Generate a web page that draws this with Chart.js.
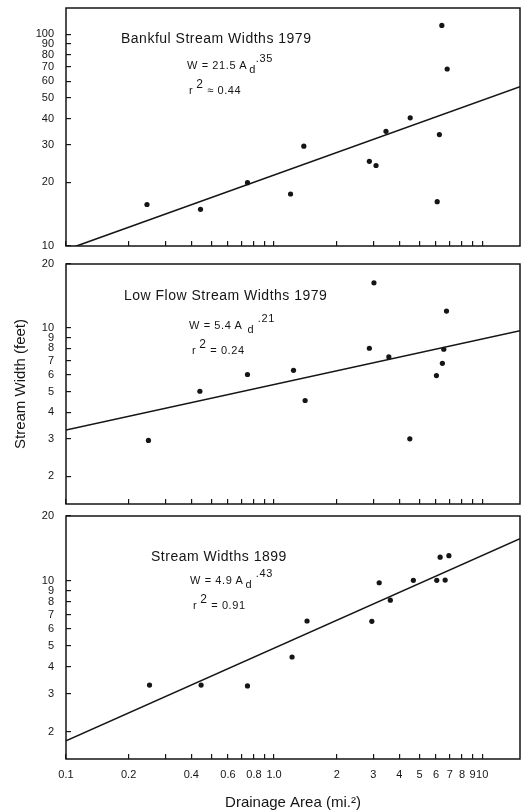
<!DOCTYPE html>
<html>
<head>
<meta charset="utf-8">
<title>Stream widths vs drainage area</title>
<script src="https://cdn.jsdelivr.net/npm/chart.js@4.4.1/dist/chart.umd.min.js"></script>
<style>
  body { margin: 0; background: #fff; }
  #figure { position: relative; width: 530px; height: 812px; font-family: "Liberation Sans", Arial, Helvetica, sans-serif; color: #151515; }
  #figure canvas { position: absolute; left: 0; }
  .label { position: absolute; white-space: nowrap; line-height: 1; }
  .panel-title { font-size: 14px; letter-spacing: 0.5px; }
  .eq { font-size: 11px; letter-spacing: 0.6px; }
  .eq .sub { position: relative; top: 4px; margin-left: 2px; }
  .eq .sup { position: relative; top: -7px; }
  .eq .sq { position: relative; top: -6px; margin-left: 3px; font-size: 12px; }
</style>
</head>
<body>
<div id="figure">
  <canvas id="bankfulChart" width="530" height="258" style="top:0"></canvas>
  <canvas id="lowFlowChart" width="530" height="260" style="top:252px"></canvas>
  <canvas id="width1899Chart" width="530" height="308" style="top:504px"></canvas>

  <div class="label panel-title" style="left:121px;top:31px">Bankful Stream Widths 1979</div>
  <div class="label eq" style="left:187px;top:60px">W = 21.5 A<span class="sub">d</span><span class="sup">.35</span></div>
  <div class="label eq" style="left:189px;top:84px">r<span class="sq">2</span> ≈ 0.44</div>

  <div class="label panel-title" style="left:124px;top:288px">Low Flow Stream Widths 1979</div>
  <div class="label eq" style="left:189px;top:320px">W = 5.4 A <span class="sub">d</span> <span class="sup">.21</span></div>
  <div class="label eq" style="left:192px;top:344px">r<span class="sq">2</span> = 0.24</div>

  <div class="label panel-title" style="left:151px;top:549px">Stream Widths 1899</div>
  <div class="label eq" style="left:190px;top:575px">W = 4.9 A<span class="sub">d</span> <span class="sup">.43</span></div>
  <div class="label eq" style="left:193px;top:599px">r<span class="sq">2</span> = 0.91</div>
</div>

<script>
// x axis (drainage area, sq. miles) - shared by all three panels
const xTicks = [0.1, 0.2, 0.3, 0.4, 0.5, 0.6, 0.7, 0.8, 0.9, 1, 2, 3, 4, 5, 6, 7, 8, 9, 10];
const xTickLabels = ['0.1', '0.2', '', '0.4', '', '0.6', '', '0.8', '', '1.0', '2', '3', '4', '5', '6', '7', '8', '9', '10'];

// y axis ticks
const yTicksBankful = [10, 20, 30, 40, 50, 60, 70, 80, 90, 100];
const yTicksWidth = [2, 3, 4, 5, 6, 7, 8, 9, 10, 20];

// bankful widths 1979
const bankfulArea  = [0.245, 0.443, 0.745, 1.20, 1.39, 2.87, 3.09, 3.45, 4.51, 6.08, 6.23, 6.40, 6.79];
const bankfulWidth = [15.7, 14.9, 19.9, 17.6, 29.6, 25.1, 24.0, 34.8, 40.3, 16.2, 33.6, 110, 68.5];

// low flow widths 1979
const lowFlowArea  = [0.249, 0.440, 0.745, 1.24, 1.41, 2.87, 3.02, 3.56, 4.49, 6.03, 6.44, 6.54, 6.74];
const lowFlowWidth = [2.95, 5.03, 6.03, 6.31, 4.55, 8.02, 16.3, 7.30, 3.00, 5.96, 6.81, 7.93, 12.0];

// stream widths 1899
const width1899Area  = [0.252, 0.446, 0.745, 1.22, 1.44, 2.95, 3.20, 3.62, 4.67, 6.05, 6.28, 6.64, 6.92];
const width1899Width = [3.30, 3.30, 3.27, 4.45, 6.53, 6.51, 9.82, 8.15, 10.08, 10.08, 12.9, 10.1, 13.1];

// regression lines, end points
const fitArea = [0.1, 15.2];
const bankfulFit = [9.6, 56.5];
const lowFlowFit = [3.3, 9.7];
const width1899Fit = [1.82, 15.7];

const INK = '#151515';
Chart.defaults.font.family = '"Liberation Sans", Arial, Helvetica, sans-serif';
Chart.defaults.color = INK;

// box round the plotting area
const frameBox = {
    id: 'frameBox',
    afterDatasetsDraw(chart) {
        const { ctx, chartArea: a } = chart;
        ctx.save();
        ctx.strokeStyle = INK;
        ctx.lineWidth = 1.5;
        ctx.strokeRect(a.left, a.top, a.right - a.left, a.bottom - a.top);
        ctx.restore();
    }
};

const toPoints = (xs, ys) => xs.map((x, i) => ({ x: x, y: ys[i] }));

function makePanel(canvasId, p) {
    new Chart(document.getElementById(canvasId), {
        type: 'scatter',
        data: {
            datasets: [
                {
                    data: toPoints(p.area, p.width),
                    pointRadius: 2.6,
                    pointBackgroundColor: INK,
                    pointBorderColor: INK,
                    pointBorderWidth: 0
                },
                {
                    data: toPoints(fitArea, p.fit),
                    showLine: true,
                    borderColor: INK,
                    borderWidth: 1.6,
                    pointRadius: 0
                }
            ]
        },
        options: {
            responsive: false,
            animation: false,
            events: [],
            layout: { padding: { top: p.padTop, right: 10, left: 0, bottom: 0 } },
            plugins: { legend: { display: false }, tooltip: { enabled: false } },
            scales: {
                x: {
                    type: 'logarithmic',
                    min: 0.1,
                    max: 15.2,
                    afterBuildTicks: s => { s.ticks = xTicks.map(v => ({ value: v })); },
                    afterFit: s => { s.height = p.xHeight; },
                    border: { display: false },
                    grid: { drawOnChartArea: false, tickLength: -5, color: INK, lineWidth: 1.2 },
                    ticks: {
                        display: p.xLabels,
                        autoSkip: false,
                        maxRotation: 0,
                        minRotation: 0,
                        padding: 14,
                        font: { size: 11 },
                        callback: (v, i) => xTickLabels[i]
                    },
                    title: {
                        display: !!p.xTitle,
                        text: p.xTitle || '',
                        font: { size: 15 },
                        padding: { top: 0, bottom: 0 }
                    }
                },
                y: {
                    type: 'logarithmic',
                    min: p.yMin,
                    max: p.yMax,
                    afterBuildTicks: s => { s.ticks = p.yTicks.map(v => ({ value: v })); },
                    // fixed width so the three panels line up; drop the label overhang
                    afterFit: s => { s.width = 66; s.paddingTop = 0; s.paddingBottom = 0; },
                    border: { display: false },
                    grid: { drawOnChartArea: false, tickLength: -5, color: INK, lineWidth: 1.2 },
                    ticks: {
                        autoSkip: false,
                        padding: 17,
                        font: { size: 11 },
                        callback: (v, i) => String(p.yTicks[i])
                    },
                    title: {
                        display: !!p.yTitle,
                        text: p.yTitle || '',
                        font: { size: 15 },
                        padding: { top: 12, bottom: 0 }
                    }
                }
            }
        },
        plugins: [frameBox]
    });
}

makePanel('bankfulChart', {
    area: bankfulArea, width: bankfulWidth, fit: bankfulFit,
    yMin: 10, yMax: 133, yTicks: yTicksBankful,
    padTop: 8, xHeight: 12, xLabels: false
});

makePanel('lowFlowChart', {
    area: lowFlowArea, width: lowFlowWidth, fit: lowFlowFit,
    yMin: 1.48, yMax: 20, yTicks: yTicksWidth,
    padTop: 12, xHeight: 8, xLabels: false,
    yTitle: 'Stream Width (feet)'
});

makePanel('width1899Chart', {
    area: width1899Area, width: width1899Width, fit: width1899Fit,
    yMin: 1.5, yMax: 20, yTicks: yTicksWidth,
    padTop: 12, xHeight: 53, xLabels: true,
    xTitle: 'Drainage Area (mi.²)'
});
</script>
</body>
</html>
